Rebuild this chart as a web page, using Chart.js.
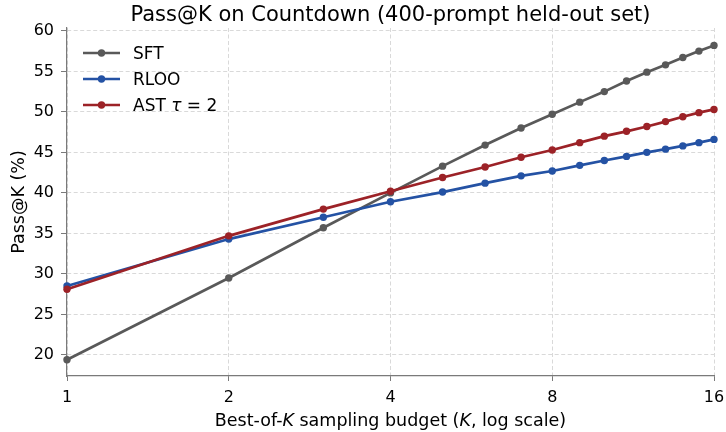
<!DOCTYPE html>
<html>
<head>
<meta charset="utf-8">
<title>Pass@K on Countdown</title>
<script src="https://cdn.jsdelivr.net/npm/chart.js@4.4.1/dist/chart.umd.min.js"></script>
<style>
    html, body { margin: 0; padding: 0; background: #ffffff; }
</style>
</head>
<body>
<canvas id="passChart" width="726" height="432"></canvas>
<script>
// Data
const kValues = [1, 2, 3, 4, 5, 6, 7, 8, 9, 10, 11, 12, 13, 14, 15, 16];
const sftValues = [19.4, 29.5, 35.7, 40.0, 43.3, 45.9, 48.0, 49.7, 51.2, 52.5, 53.8, 54.9, 55.8, 56.7, 57.5, 58.2];
const rlooValues = [28.5, 34.3, 37.0, 38.9, 40.1, 41.2, 42.1, 42.7, 43.4, 44.0, 44.5, 45.0, 45.4, 45.8, 46.2, 46.6];
const astValues = [28.1, 34.7, 38.0, 40.2, 41.9, 43.2, 44.4, 45.3, 46.2, 47.0, 47.6, 48.2, 48.8, 49.4, 49.9, 50.3];

const xTicks = [1, 2, 4, 8, 16];
const yTicks = [20, 25, 30, 35, 40, 45, 50, 55, 60];

const titleText = 'Pass@K on Countdown (400-prompt held-out set)';
const yTitleText = 'Pass@K (%)';
// [text, italic]
const xTitleParts = [['Best-of-', false], ['K', true], [' sampling budget (', false], ['K', true], [', log scale)', false]];
const legendParts = [
    [['SFT', false]],
    [['RLOO', false]],
    [['AST ', false], ['\u03C4', true], [' = 2', false]]
];

const FONT = '"DejaVu Sans", "Liberation Sans", sans-serif';
const axisColor = '#7a7a7a';
const gridColor = '#d9d9d9';

function toPoints(values) {
    return kValues.map((k, i) => ({ x: k, y: values[i] }));
}

function makeDataset(label, values, color, order) {
    return {
        label: label,
        data: toPoints(values),
        borderColor: color,
        backgroundColor: color,
        borderWidth: 2.7,
        pointRadius: 3.7,
        pointBorderWidth: 0,
        pointBackgroundColor: color,
        tension: 0,
        clip: false,
        order: order
    };
}

// Draw a run of text pieces, some italic, starting at x
function drawParts(ctx, parts, x, y, size) {
    parts.forEach(([txt, italic]) => {
        ctx.font = (italic ? 'italic ' : '') + size + 'px ' + FONT;
        ctx.fillText(txt, x, y);
        x += ctx.measureText(txt).width;
    });
}

function partsWidth(ctx, parts, size) {
    let w = 0;
    parts.forEach(([txt, italic]) => {
        ctx.font = (italic ? 'italic ' : '') + size + 'px ' + FONT;
        w += ctx.measureText(txt).width;
    });
    return w;
}

// Title, axis titles and legend, drawn by hand
const textPlugin = {
    id: 'textPlugin',
    afterDraw(chart) {
        const ctx = chart.ctx;
        const area = chart.chartArea;
        const midX = (area.left + area.right) / 2;
        ctx.save();
        ctx.fillStyle = '#000000';
        ctx.textBaseline = 'alphabetic';
        ctx.textAlign = 'left';

        // title
        ctx.font = '21px ' + FONT;
        const tw = ctx.measureText(titleText).width;
        ctx.fillText(titleText, midX - tw / 2, 20.5);

        // x axis title
        const xw = partsWidth(ctx, xTitleParts, 17.5);
        drawParts(ctx, xTitleParts, midX - xw / 2, 426, 17.5);

        // y axis title
        ctx.save();
        ctx.translate(23.5, (area.top + area.bottom) / 2);
        ctx.rotate(-Math.PI / 2);
        ctx.font = '17.5px ' + FONT;
        const yw = ctx.measureText(yTitleText).width;
        ctx.fillText(yTitleText, -yw / 2, 0);
        ctx.restore();

        // legend
        const rows = [53, 79, 105];
        chart.data.datasets.forEach((ds, i) => {
            const y = rows[i];
            ctx.strokeStyle = ds.borderColor;
            ctx.lineWidth = 2.7;
            ctx.beginPath();
            ctx.moveTo(83, y);
            ctx.lineTo(120, y);
            ctx.stroke();
            ctx.fillStyle = ds.borderColor;
            ctx.beginPath();
            ctx.arc(101.5, y, 3.7, 0, Math.PI * 2);
            ctx.fill();
            ctx.fillStyle = '#000000';
            drawParts(ctx, legendParts[i], 133, y + 6.2, 17);
        });
        ctx.restore();
    }
};

const ctx = document.getElementById('passChart').getContext('2d');
const chart = new Chart(ctx, {
    type: 'line',
    data: {
        datasets: [
            makeDataset('SFT', sftValues, '#595959', 2),
            makeDataset('RLOO', rlooValues, '#2452a4', 1),
            makeDataset('AST \u03C4 = 2', astValues, '#9c2227', 0)
        ]
    },
    options: {
        responsive: false,
        animation: false,
        layout: { padding: { top: 28, left: 0, right: 12, bottom: 0 } },
        plugins: {
            legend: { display: false },
            title: { display: false },
            tooltip: { enabled: false }
        },
        scales: {
            x: {
                type: 'logarithmic',
                min: 1,
                max: 16,
                afterBuildTicks: scale => { scale.ticks = xTicks.map(v => ({ value: v })); },
                afterFit: scale => {
                    scale.height = 56;
                    scale.paddingLeft = 0;
                    scale.paddingRight = 0;
                },
                ticks: {
                    autoSkip: false,
                    maxRotation: 0,
                    padding: 7,
                    color: '#000000',
                    font: { family: FONT, size: 16 },
                    callback: value => String(value)
                },
                grid: {
                    color: gridColor,
                    lineWidth: 1,
                    drawTicks: true,
                    tickLength: 5,
                    tickColor: axisColor,
                    tickWidth: 1
                },
                border: { display: true, color: axisColor, width: 1.2, dash: [4, 2.5] }
            },
            y: {
                type: 'linear',
                min: 17.4,
                max: 60.35,
                afterBuildTicks: scale => { scale.ticks = yTicks.map(v => ({ value: v })); },
                afterFit: scale => {
                    scale.width = 67;
                    scale.paddingTop = 0;
                    scale.paddingBottom = 0;
                },
                ticks: {
                    padding: 7,
                    color: '#000000',
                    font: { family: FONT, size: 16 }
                },
                grid: {
                    color: gridColor,
                    lineWidth: 1,
                    drawTicks: true,
                    tickLength: 6,
                    tickColor: axisColor,
                    tickWidth: 1
                },
                border: { display: true, color: axisColor, width: 1.2, dash: [4, 2.5] }
            }
        }
    },
    plugins: [textPlugin]
});
</script>
</body>
</html>
